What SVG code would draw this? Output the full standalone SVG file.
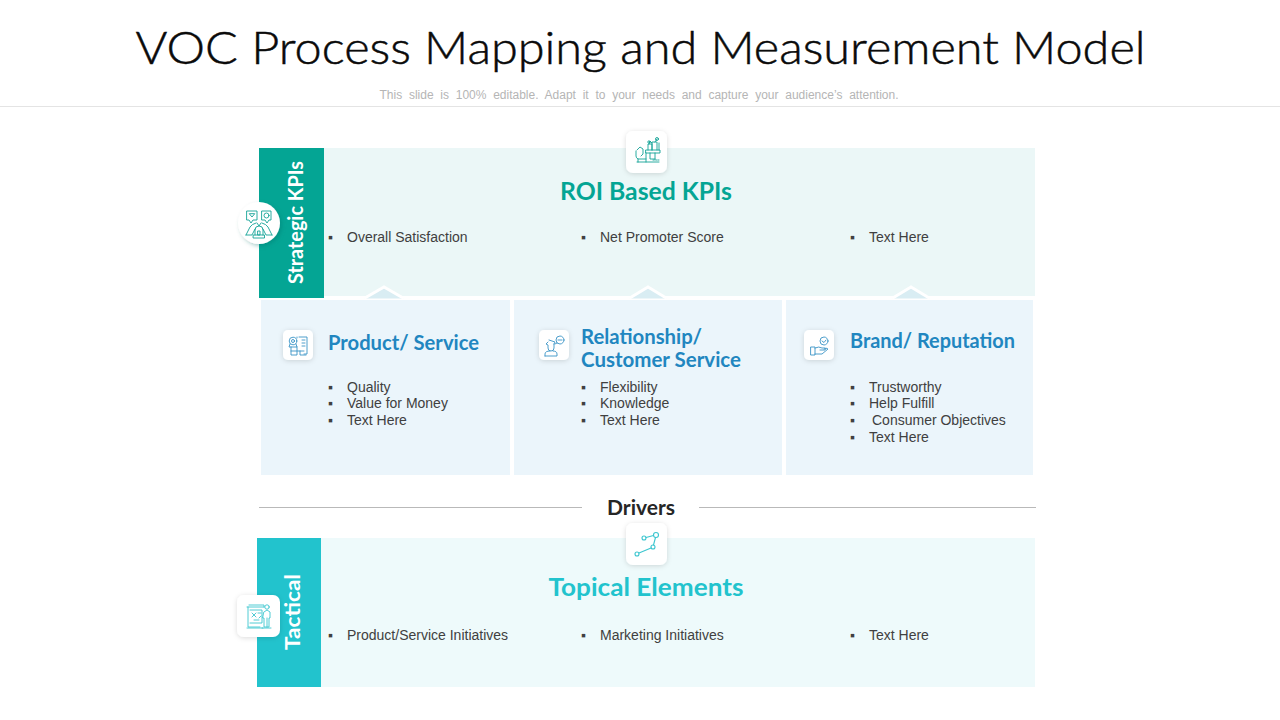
<svg xmlns="http://www.w3.org/2000/svg" width="1280" height="720" viewBox="0 0 1280 720">
<defs>
<filter id="sh" x="-30%" y="-30%" width="160%" height="160%"><feDropShadow dx="0" dy="1" stdDeviation="2.500" flood-color="#000" flood-opacity=".14"/></filter>
<filter id="sh2" x="-30%" y="-30%" width="160%" height="160%"><feDropShadow dx="2" dy="2" stdDeviation="2" flood-color="#0b6f66" flood-opacity=".35"/></filter>
</defs>
<style>
text{font-family:"Lato","Liberation Sans",sans-serif}
.b{font-family:"Liberation Sans",Arial,sans-serif;font-size:14px;fill:#404040}
.h{font-weight:700;font-size:21px;fill:#2186c0}
.g{font-weight:700;font-size:24px}
.s{font-weight:700;font-size:20px;fill:#fff}
.i{fill:none;stroke-width:.9;stroke-linejoin:round;stroke-linecap:round}
.t{stroke:#13a396}.c{stroke:#3cc6cf}.u{stroke:#3a94c6}
.tip{stroke:#fff;stroke-width:3;fill:#d9edf3}
</style>
<rect width="1280" height="720" fill="#fff"/>
<g id="header">
<text x="640.500" y="64" text-anchor="middle" font-size="46" fill="#0a0a0a" stroke="#0a0a0a" stroke-width=".5" textLength="1010" lengthAdjust="spacingAndGlyphs" style="font-weight:300">VOC Process Mapping and Measurement Model</text>
<text x="639" y="99" text-anchor="middle" font-size="12" fill="#b5b5b5" word-spacing="3.400" style="font-family:'Liberation Sans',Arial,sans-serif">This slide is 100% editable. Adapt it to your needs and capture your audience’s attention.</text>
<line x1="0" y1="106.500" x2="1280" y2="106.500" stroke="#e4e4e4"/>
</g>
<g id="connectors">
<line x1="259" y1="507.500" x2="582" y2="507.500" stroke="#b9b9b9"/>
<line x1="699" y1="507.500" x2="1036" y2="507.500" stroke="#b9b9b9"/>
</g>
<g id="strategic">
<rect x="259" y="148" width="776" height="150" fill="#ebf7f7"/>
<rect x="324" y="296" width="711" height="4" fill="#fff"/>
<rect x="259" y="148" width="65" height="150" fill="#04a594"/>
<text class="s" transform="translate(303,284) rotate(-90)" textLength="123" lengthAdjust="spacingAndGlyphs">Strategic KPIs</text>
<text class="g" x="646" y="200" text-anchor="middle" fill="#04a594" textLength="172" lengthAdjust="spacingAndGlyphs">ROI Based KPIs</text>
<text class="b" x="328" y="242">▪</text><text class="b" x="347" y="242">Overall Satisfaction</text>
<text class="b" x="581" y="242">▪</text><text class="b" x="600" y="242">Net Promoter Score</text>
<text class="b" x="850" y="242">▪</text><text class="b" x="869" y="242">Text Here</text>
</g>
<g id="strategic-icon">
<circle cx="259" cy="223" r="21" fill="#fff" filter="url(#sh2)"/>
<g class="i t">
<path d="M247 211h10v9h-4l-2 3-2-3h-2zM249.500 214l2.500 3 2.500-3zM262 211h9v9h-2l-2 3-2-3h-3z"/><circle cx="266.500" cy="215.500" r="2.500"/>
<path d="M246 235l4-8q2-3 6-4M272 235l-4-8q-2-3-6-4M246 235h6l3-6M272 235h-6l-3-6M257 223l2 3 2-3"/>
<path d="M255 235v-5q0-4 4-4t4 4v5M253.500 235h11v3h-11zM258 231h2v4h-2z"/>
</g>
</g>
<g id="roi-icon">
<rect x="626" y="131" width="41" height="42" rx="7" fill="#fff" filter="url(#sh)"/>
<g class="i t">
<path d="M646 153h14v-3h-14zM648 150v-6h4v6M652 150v-8h5v8M649 144l1-3 2 2M655 142l2-3M659 143v7"/><circle cx="657" cy="139" r="1.500"/><circle cx="649" cy="142" r="1.200"/>
<path d="M637 150l3-3 3 2v5l-2 2M636 151v5q0 2 2 3h8M646 153v9M655 153v7M650 153v6h5M637 162h22M653 160h1M656 160h1M658 160h1"/><path d="M638 159v3"/>
</g>
</g>
<g id="product">
<rect x="261" y="300" width="249" height="175" fill="#ebf5fb"/>
<path class="tip" d="M364 298.500l20-11.500 20 11.500"/>
<rect x="283" y="330" width="30" height="30" rx="5" fill="#fff" filter="url(#sh)"/>
<g class="i u"><circle cx="293" cy="341" r="3.800"/><circle cx="293" cy="341" r="1.500"/><path d="M290 344l-1 3h8l-1-3M299 337h8v17h-3M302 340h3M302 343h3M302 346h3M291 347v8h6v-8M291 351h13M300 351v4h6M297 337v1"/></g>
<text class="h" x="328" y="350" textLength="151" lengthAdjust="spacingAndGlyphs">Product/ Service</text>
<text class="b" x="328" y="392">▪</text><text class="b" x="347" y="392">Quality</text>
<text class="b" x="328" y="408">▪</text><text class="b" x="347" y="408">Value for Money</text>
<text class="b" x="328" y="425">▪</text><text class="b" x="347" y="425">Text Here</text>
</g>
<g id="relationship">
<rect x="514" y="300" width="268" height="175" fill="#ebf5fb"/>
<path class="tip" d="M629 298.500l19-11.500 19 11.500"/>
<rect x="539" y="330" width="30" height="30" rx="5" fill="#fff" filter="url(#sh)"/>
<g class="i u"><circle cx="560" cy="340" r="4"/><path d="M558 340h4M557 343l-2 1M549 340l6 2-1 2M548 342l-2 2 2 1v3q0 3 3 3t3-3v-4M545 356v-2q0-3 5-3M553 351q4 0 4 3v2h-12"/></g>
<text class="h" x="581" y="344" textLength="121" lengthAdjust="spacingAndGlyphs">Relationship/</text>
<text class="h" x="581" y="367" textLength="160" lengthAdjust="spacingAndGlyphs">Customer Service</text>
<text class="b" x="581" y="392">▪</text><text class="b" x="600" y="392">Flexibility</text>
<text class="b" x="581" y="408">▪</text><text class="b" x="600" y="408">Knowledge</text>
<text class="b" x="581" y="425">▪</text><text class="b" x="600" y="425">Text Here</text>
</g>
<g id="brand">
<rect x="786" y="300" width="247" height="175" fill="#ebf5fb"/>
<path class="tip" d="M892 298.500l19-11.500 19 11.500"/>
<rect x="804" y="330" width="30" height="30" rx="5" fill="#fff" filter="url(#sh)"/>
<g class="i u"><circle cx="824" cy="341" r="4"/><path d="M822 341l2 1.500 2-2.500M811 347h4v8h-4zM815 348q4-2 7 0h3q1 1 0 2h-5M815 354h7l6-5q-2-2-4 0"/></g>
<text class="h" x="850" y="348" textLength="165" lengthAdjust="spacingAndGlyphs">Brand/ Reputation</text>
<text class="b" x="850" y="392">▪</text><text class="b" x="869" y="392">Trustworthy</text>
<text class="b" x="850" y="408">▪</text><text class="b" x="869" y="408">Help Fulfill</text>
<text class="b" x="850" y="425">▪</text><text class="b" x="872" y="425">Consumer Objectives</text>
<text class="b" x="850" y="442">▪</text><text class="b" x="869" y="442">Text Here</text>
</g>
<g id="drivers">
<text x="641" y="515" text-anchor="middle" font-size="21" fill="#262626" textLength="68" lengthAdjust="spacingAndGlyphs" style="font-weight:700">Drivers</text>
</g>
<g id="tactical">
<rect x="257" y="538" width="778" height="149" fill="#eefafb"/>
<rect x="257" y="538" width="64" height="149" fill="#22c3cd"/>
<text class="s" transform="translate(300,650) rotate(-90)" textLength="76" lengthAdjust="spacingAndGlyphs">Tactical</text>
<text class="g" x="646" y="596" text-anchor="middle" fill="#22c3cd" textLength="195" lengthAdjust="spacingAndGlyphs">Topical Elements</text>
<text class="b" x="328" y="640">▪</text><text class="b" x="347" y="640">Product/Service Initiatives</text>
<text class="b" x="581" y="640">▪</text><text class="b" x="600" y="640">Marketing Initiatives</text>
<text class="b" x="850" y="640">▪</text><text class="b" x="869" y="640">Text Here</text>
</g>
<g id="topical-icon">
<rect x="626" y="523" width="41" height="42" rx="7" fill="#fff" filter="url(#sh)"/>
<g class="i c" style="stroke-width:1.100"><circle cx="656" cy="535" r="2.500"/><circle cx="644" cy="538" r="2"/><circle cx="653" cy="547" r="2"/><circle cx="637" cy="554" r="2"/><path d="M646 537.500l7.500-2M655.500 537.500l-2 7.500M651 548l-12 5"/></g>
</g>
<g id="tactical-icon">
<rect x="237" y="595" width="43" height="42" rx="7" fill="#fff" filter="url(#sh)"/>
<g class="i c"><path d="M247 607h17M248 607v20h12M249 605h15v2M250 610h12v13h-12M252 613l4 4M256 613l-4 4M254 620h5M258 613h3M259 618l2-2"/><circle cx="267" cy="607" r="2.200"/><path d="M264 612l3-2 3 2v6h-1v9h-5v-9h-1zM262 628h9M267 618v9"/><path d="M247 628h16"/></g>
</g>
</svg>
